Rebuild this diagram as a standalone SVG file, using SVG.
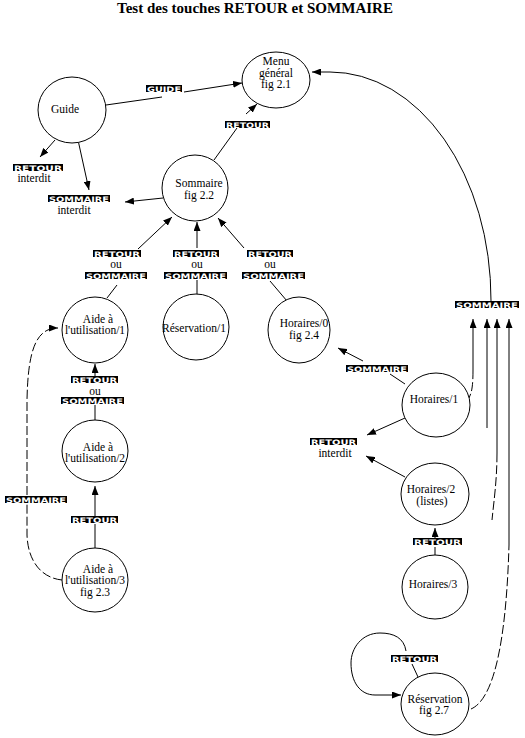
<svg xmlns="http://www.w3.org/2000/svg" width="525" height="738" viewBox="0 0 525 738">
<style>
.n{fill:#fff;stroke:#000;stroke-width:1}
.t{font-family:"Liberation Serif","Times New Roman",serif;font-size:11.5px;fill:#000;text-anchor:middle}
.ti{font-family:"Liberation Serif","Times New Roman",serif;font-size:14px;font-weight:bold;fill:#000;text-anchor:middle}
.c{fill:none;stroke:#000;stroke-width:1}
.d{stroke-dasharray:9 3}
.k{fill:#000}
.kt{font-family:"DejaVu Sans","Liberation Sans",sans-serif;font-weight:bold;font-size:7.5px;fill:#fff}
</style>
<defs>
<marker id="a" viewBox="0 0 9 7" refX="9" refY="3.5" markerWidth="9" markerHeight="7" markerUnits="userSpaceOnUse" orient="auto"><path d="M0,0 L9,3.5 L0,7 z" fill="#000"/></marker>
</defs>
<rect width="525" height="738" fill="#fff"/>
<text class="ti" x="255" y="13" textLength="276" lengthAdjust="spacingAndGlyphs">Test des touches RETOUR et SOMMAIRE</text>

<g id="connectors">
<path class="c" d="M106,105 L162,97"/>
<path class="c" d="M184,92 L242,83" marker-end="url(#a)"/>
<path class="c" d="M214,160 L237,128"/>
<path class="c" d="M246,114 L257,104" marker-end="url(#a)"/>
<path class="c" d="M55,140 L40,157" marker-end="url(#a)"/>
<path class="c" d="M78,140 L89,190" marker-end="url(#a)"/>
<path class="c" d="M163,198 L125,202" marker-end="url(#a)"/>
<path class="c" d="M107,298 L117,285"/>
<path class="c" d="M138,249 L172,217" marker-end="url(#a)"/>
<path class="c" d="M197,295 L197,280"/>
<path class="c" d="M197,248 L197,222" marker-end="url(#a)"/>
<path class="c" d="M287,301 L270,281"/>
<path class="c" d="M244,248 L218,218" marker-end="url(#a)"/>
<path class="c" d="M405,384 L390,374"/>
<path class="c" d="M363,361 L338,348" marker-end="url(#a)"/>
<path class="c" d="M405,418 L367,435" marker-end="url(#a)"/>
<path class="c" d="M405,477 L366,456" marker-end="url(#a)"/>
<path class="c" d="M435,555 L435,547"/>
<path class="c" d="M435,538 L435,528" marker-end="url(#a)"/>
<path class="c" d="M95,420 L95,405"/>
<path class="c" d="M95,376 L95,364" marker-end="url(#a)"/>
<path class="c" d="M95,548 L95,524"/>
<path class="c" d="M95,516 L95,486" marker-end="url(#a)"/>
<path class="c d" d="M62,580 C42,578 28,562 27,535 L27,504"/>
<path class="c d" d="M27,495 L27,400 C28,350 36,328 58,328" marker-end="url(#a)"/>
<path class="c" d="M406,651 C404,638 394,633 380,633 C362,633 351,648 351,663 C351,682 360,695 375,695 L401,695" marker-end="url(#a)"/>
<path class="c" d="M412,664 L418,677"/>
<path class="c" d="M509,545 L509,319" marker-end="url(#a)"/>
<path class="c d" d="M471,709 C492,700 506,650 509,545"/>
<path class="c" d="M497,453 L497,319" marker-end="url(#a)"/>
<path class="c d" d="M497,453 C497,480 494,500 492,520"/>
<path class="c" d="M487,428 L487,319" marker-end="url(#a)"/>
<path class="c" d="M473,370 L473,319" marker-end="url(#a)"/>
<path class="c d" d="M473,370 C473,385 472,392 469,398"/>
<path class="c" d="M491,301 A161,228 0 0 0 330,72 L312,72" marker-end="url(#a)"/>
</g>

<g id="menu"><ellipse class="n" cx="276" cy="80" rx="34" ry="28"/><text class="t" x="276" y="65">Menu</text><text class="t" x="276" y="77">général</text><text class="t" x="276" y="88">fig 2.1</text></g>
<g id="guide"><ellipse class="n" cx="72" cy="110" rx="34" ry="33"/><text class="t" x="65" y="113">Guide</text></g>
<g id="sommaire"><ellipse class="n" cx="195" cy="188" rx="33" ry="33"/><text class="t" x="199" y="187">Sommaire</text><text class="t" x="199" y="199">fig 2.2</text></g>
<g id="aide1"><ellipse class="n" cx="95" cy="330" rx="33" ry="33"/><text class="t" x="98" y="323">Aide à</text><text class="t" x="95" y="334">l'utilisation/1</text></g>
<g id="reservation1"><ellipse class="n" cx="196" cy="327" rx="33" ry="33"/><text class="t" x="194" y="332">Réservation/1</text></g>
<g id="horaires0"><ellipse class="n" cx="299" cy="330" rx="31" ry="33"/><text class="t" x="304" y="327">Horaires/0</text><text class="t" x="304" y="339">fig 2.4</text></g>
<g id="horaires1"><ellipse class="n" cx="436" cy="405" rx="34" ry="32"/><text class="t" x="434" y="403">Horaires/1</text></g>
<g id="horaires2"><ellipse class="n" cx="435" cy="494" rx="34" ry="31"/><text class="t" x="431" y="493">Horaires/2</text><text class="t" x="432" y="505">(listes)</text></g>
<g id="horaires3"><ellipse class="n" cx="435" cy="587" rx="33" ry="32"/><text class="t" x="433" y="588">Horaires/3</text></g>
<g id="reservation"><ellipse class="n" cx="435" cy="704" rx="34" ry="31"/><text class="t" x="435" y="703">Réservation</text><text class="t" x="434" y="714">fig 2.7</text></g>
<g id="aide2"><ellipse class="n" cx="95" cy="451" rx="33" ry="31"/><text class="t" x="98" y="451">Aide à</text><text class="t" x="95" y="462">l'utilisation/2</text></g>
<g id="aide3"><ellipse class="n" cx="95" cy="580" rx="33" ry="32"/><text class="t" x="98" y="573">Aide à</text><text class="t" x="95" y="584">l'utilisation/3</text><text class="t" x="95" y="596">fig 2.3</text></g>

<g id="labels">
<rect class="k" x="146" y="85" width="36" height="7"/><text class="kt" x="147" y="91.5" textLength="34" lengthAdjust="spacingAndGlyphs">GUIDE</text>
<rect class="k" x="225" y="121" width="45" height="7"/><text class="kt" x="226" y="127.5" textLength="43" lengthAdjust="spacingAndGlyphs">RETOUR</text>
<rect class="k" x="13" y="164" width="50" height="7"/><text class="kt" x="14" y="170.5" textLength="48" lengthAdjust="spacingAndGlyphs">RETOUR</text>
<text class="t" x="34" y="182">interdit</text>
<rect class="k" x="48" y="195" width="62" height="7"/><text class="kt" x="49" y="201.5" textLength="60" lengthAdjust="spacingAndGlyphs">SOMMAIRE</text>
<text class="t" x="74" y="214">interdit</text>
<rect class="k" x="93" y="250" width="48" height="7"/><text class="kt" x="94" y="256.5" textLength="46" lengthAdjust="spacingAndGlyphs">RETOUR</text>
<text class="t" x="116" y="268">ou</text>
<rect class="k" x="85" y="272" width="62" height="7"/><text class="kt" x="86" y="278.5" textLength="60" lengthAdjust="spacingAndGlyphs">SOMMAIRE</text>
<rect class="k" x="173" y="250" width="46" height="7"/><text class="kt" x="174" y="256.5" textLength="44" lengthAdjust="spacingAndGlyphs">RETOUR</text>
<text class="t" x="197" y="268">ou</text>
<rect class="k" x="164" y="272" width="63" height="7"/><text class="kt" x="165" y="278.5" textLength="61" lengthAdjust="spacingAndGlyphs">SOMMAIRE</text>
<rect class="k" x="247" y="250" width="46" height="7"/><text class="kt" x="248" y="256.5" textLength="44" lengthAdjust="spacingAndGlyphs">RETOUR</text>
<text class="t" x="270" y="268">ou</text>
<rect class="k" x="242" y="272" width="63" height="7"/><text class="kt" x="243" y="278.5" textLength="61" lengthAdjust="spacingAndGlyphs">SOMMAIRE</text>
<rect class="k" x="346" y="365" width="62" height="7"/><text class="kt" x="347" y="371.5" textLength="60" lengthAdjust="spacingAndGlyphs">SOMMAIRE</text>
<rect class="k" x="310" y="438" width="47" height="7"/><text class="kt" x="311" y="444.5" textLength="45" lengthAdjust="spacingAndGlyphs">RETOUR</text>
<text class="t" x="335" y="457">interdit</text>
<rect class="k" x="413" y="538" width="49" height="7"/><text class="kt" x="414" y="544.5" textLength="47" lengthAdjust="spacingAndGlyphs">RETOUR</text>
<rect class="k" x="71" y="376" width="47" height="7"/><text class="kt" x="72" y="382.5" textLength="45" lengthAdjust="spacingAndGlyphs">RETOUR</text>
<text class="t" x="95" y="395">ou</text>
<rect class="k" x="61" y="397" width="63" height="7"/><text class="kt" x="62" y="403.5" textLength="61" lengthAdjust="spacingAndGlyphs">SOMMAIRE</text>
<rect class="k" x="71" y="516" width="47" height="7"/><text class="kt" x="72" y="522.5" textLength="45" lengthAdjust="spacingAndGlyphs">RETOUR</text>
<rect class="k" x="5" y="496" width="62" height="7"/><text class="kt" x="6" y="502.5" textLength="60" lengthAdjust="spacingAndGlyphs">SOMMAIRE</text>
<rect class="k" x="455" y="301" width="64" height="7"/><text class="kt" x="456" y="307.5" textLength="62" lengthAdjust="spacingAndGlyphs">SOMMAIRE</text>
<rect class="k" x="391" y="655" width="47" height="7"/><text class="kt" x="392" y="661.5" textLength="45" lengthAdjust="spacingAndGlyphs">RETOUR</text>
</g>
</svg>
